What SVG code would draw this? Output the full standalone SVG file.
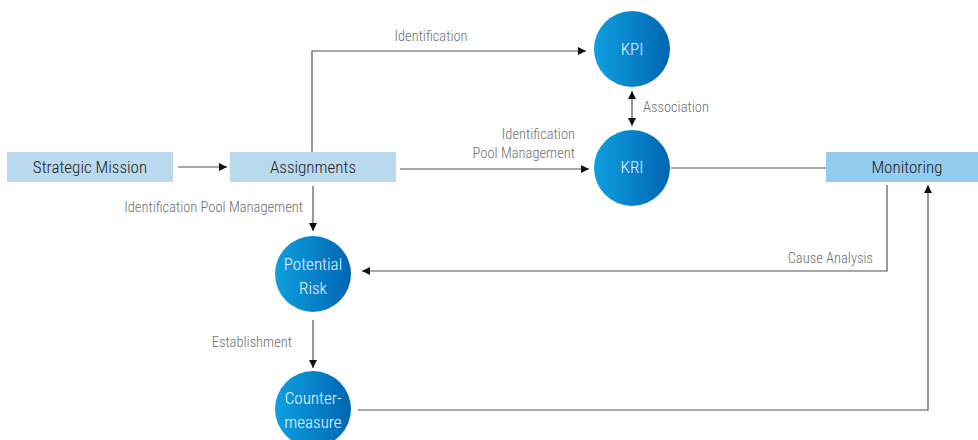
<svg xmlns="http://www.w3.org/2000/svg" width="978" height="440" viewBox="0 0 978 440">
  <style>
    .box { fill: #b9daec; }
    .box-mon { fill: #93cbee; }
    .node-text { font-family: "Liberation Sans Narrow", "Roboto Condensed", "Liberation Sans", sans-serif; font-weight: 300; font-size: 17px; fill: #222; text-anchor: middle; }
    .circ-text { font-family: "Liberation Sans Narrow", "Roboto Condensed", "Liberation Sans", sans-serif; font-weight: 300; font-size: 17px; fill: #eef6fc; text-anchor: middle; }
    .label { font-family: "Liberation Sans Narrow", "Roboto Condensed", "Liberation Sans", sans-serif; font-weight: 300; font-size: 14.5px; fill: #6e6e6e; }
    .conn { fill: none; stroke: #555; stroke-width: 1.2; }
  </style>
  <defs>
    <linearGradient id="circFill" x1="0" y1="0" x2="1" y2="0">
      <stop offset="0" stop-color="#0f9fe0"/>
      <stop offset="1" stop-color="#0066b2"/>
    </linearGradient>
    <marker id="arrow" viewBox="0 0 10 10" refX="10" refY="5" markerWidth="8" markerHeight="8" markerUnits="userSpaceOnUse" orient="auto-start-reverse">
      <path d="M0,0 L10,5 L0,10 z" fill="#111"/>
    </marker>
  </defs>

  <!-- connectors -->
  <g id="connectors">
    <path class="conn" d="M178,167 H227" marker-end="url(#arrow)"/>
    <path class="conn" d="M312,152 V51 H586" marker-end="url(#arrow)"/>
    <path class="conn" d="M400,169 H589" marker-end="url(#arrow)"/>
    <path class="conn" d="M632,91 V126" marker-start="url(#arrow)" marker-end="url(#arrow)"/>
    <path class="conn" d="M671,168 H826"/>
    <path class="conn" d="M313,186 V231" marker-end="url(#arrow)"/>
    <path class="conn" d="M887,185 V271 H362" marker-end="url(#arrow)"/>
    <path class="conn" d="M313,320 V368" marker-end="url(#arrow)"/>
    <path class="conn" d="M358,410 H928 V185" marker-end="url(#arrow)"/>
  </g>

  <!-- connector labels -->
  <g id="labels">
    <text class="label" x="431" y="41" text-anchor="middle">Identification</text>
    <text class="label" x="575" y="139" text-anchor="end">Identification</text>
    <text class="label" x="575" y="158" text-anchor="end">Pool Management</text>
    <text class="label" x="643" y="112">Association</text>
    <text class="label" x="303" y="212" text-anchor="end">Identification Pool Management</text>
    <text class="label" x="873" y="263" text-anchor="end">Cause Analysis</text>
    <text class="label" x="292" y="347" text-anchor="end">Establishment</text>
  </g>

  <g id="strategic-mission">
    <rect class="box" x="7" y="152" width="166" height="30"/>
    <text class="node-text" x="90" y="172.5">Strategic Mission</text>
  </g>

  <g id="assignments">
    <rect class="box" x="230" y="152" width="166" height="30"/>
    <text class="node-text" x="313" y="172.5">Assignments</text>
  </g>

  <g id="monitoring">
    <rect class="box-mon" x="826" y="152" width="152" height="30"/>
    <text class="node-text" x="907" y="172.5">Monitoring</text>
  </g>

  <g id="kpi">
    <circle cx="632" cy="49" r="38" fill="url(#circFill)"/>
    <text class="circ-text" x="632" y="55">KPI</text>
  </g>

  <g id="kri">
    <circle cx="632" cy="168" r="38" fill="url(#circFill)"/>
    <text class="circ-text" x="632" y="173">KRI</text>
  </g>

  <g id="potential-risk">
    <circle cx="313" cy="274" r="38" fill="url(#circFill)"/>
    <text class="circ-text" x="313" y="269.5">Potential</text>
    <text class="circ-text" x="313" y="293.5">Risk</text>
  </g>

  <g id="countermeasure">
    <circle cx="313" cy="409" r="38" fill="url(#circFill)"/>
    <text class="circ-text" x="313" y="403.5">Counter-</text>
    <text class="circ-text" x="313" y="427.5">measure</text>
  </g>
</svg>
